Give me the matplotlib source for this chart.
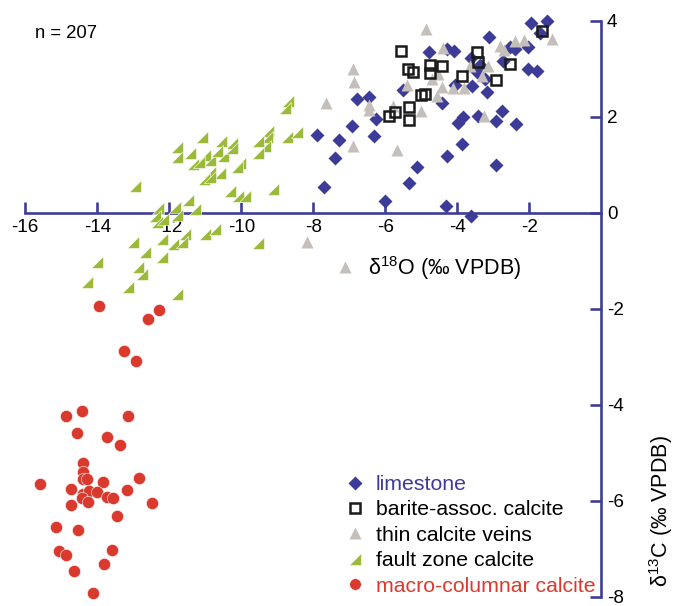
import matplotlib
matplotlib.use("Agg")
import matplotlib.pyplot as plt
from matplotlib.path import Path

plt.rcParams['font.family'] = ['Liberation Sans', 'DejaVu Sans']
plt.rcParams['mathtext.fontset'] = 'custom'
plt.rcParams['mathtext.rm'] = 'Liberation Sans'
plt.rcParams['mathtext.default'] = 'regular'

# d18O / d13C pairs per calcite type
limestone_x = [-1.95, -1.51, -1.70, -3.11, -4.79, -4.28, -4.09, -3.62, -3.37, -3.46,
               -2.54, -2.40, -2.03, -2.72, -2.03, -1.79, -3.60, -3.18, -3.23, -4.43,
               -4.06, -5.52, -6.79, -6.44, -6.26, -6.93, -7.29, -6.31, -7.40, -7.91,
               -7.69, -3.97, -3.83, -3.42, -2.75, -2.93, -2.38, -3.86, -4.28, -5.11,
               -5.33, -2.93, -6.00, -4.32, -3.63]
limestone_y = [3.95, 3.98, 3.74, 3.66, 3.34, 3.41, 3.36, 3.21, 3.07, 2.92,
               3.44, 3.41, 3.45, 3.16, 2.99, 2.95, 2.63, 2.52, 2.78, 2.28,
               2.66, 2.56, 2.36, 2.40, 1.95, 1.80, 1.52, 1.60, 1.13, 1.61,
               0.53, 1.86, 2.00, 2.02, 2.12, 1.91, 1.84, 1.43, 1.17, 0.94,
               0.61, 0.98, 0.25, 0.14, -0.08]

barite_x = [-5.56, -5.38, -5.24, -4.76, -4.43, -4.76, -3.46, -3.43, -2.54, -2.93,
            -3.86, -5.02, -4.91, -5.33, -5.33, -5.90, -5.73, -1.64]
barite_y = [3.36, 2.98, 2.93, 3.07, 3.06, 2.91, 3.34, 3.14, 3.09, 2.76,
            2.85, 2.45, 2.46, 2.20, 1.92, 2.02, 2.09, 3.79]

veins_x = [-4.88, -4.39, -2.81, -2.69, -2.40, -2.16, -1.38, -3.65, -3.32, -3.14,
           -4.53, -4.71, -4.43, -4.56, -4.11, -3.81, -5.41, -5.78, -6.44, -6.44,
           -5.01, -3.26, -6.89, -6.87, -6.89, -5.68, -7.65, -8.18, -7.12]
veins_y = [3.82, 3.42, 3.47, 3.39, 3.58, 3.59, 3.61, 3.06, 2.85, 3.05,
           2.89, 2.78, 2.61, 2.43, 2.60, 2.59, 2.66, 2.21, 2.23, 2.14,
           2.11, 2.01, 2.99, 2.72, 1.39, 1.31, 2.28, -0.62, -1.14]

fault_x = [-8.69, -8.79, -11.10, -10.56, -10.27, -11.79, -11.43, -11.79, -11.01, -10.87,
           -10.68, -10.50, -11.33, -11.18, -10.27, -10.87, -10.59, -11.04, -10.87, -10.04,
           -10.13, -9.26, -9.29, -9.53, -9.33, -9.53, -8.74, -8.46, -12.95, -10.31,
           -10.08, -9.90, -9.11, -12.31, -12.40, -12.35, -12.17, -11.84, -11.79, -11.47,
           -11.29, -11.56, -12.21, -11.89, -11.66, -11.01, -10.73, -13.00, -12.68, -12.21,
           -9.53, -14.02, -12.86, -12.77, -14.29, -13.14, -11.79]
fault_y = [2.33, 2.17, 1.57, 1.50, 1.45, 1.36, 1.25, 1.16, 1.20, 1.09,
           1.28, 1.17, 1.01, 1.05, 1.34, 0.84, 0.82, 0.70, 0.74, 1.03,
           0.95, 1.70, 1.57, 1.50, 1.39, 1.23, 1.58, 1.67, 0.56, 0.45,
           0.35, 0.35, 0.49, 0.09, -0.07, -0.20, -0.14, 0.11, -0.05, 0.26,
           0.07, -0.45, -0.55, -0.66, -0.62, -0.45, -0.34, -0.62, -0.83, -0.93,
           -0.64, -1.04, -1.14, -1.28, -1.45, -1.56, -1.70]

columnar_x = [-13.95, -12.29, -12.60, -13.27, -12.92, -14.87, -14.43, -13.14, -14.56, -13.72,
              -13.36, -14.40, -14.40, -14.41, -14.28, -13.85, -12.84, -15.58, -14.74, -14.39,
              -14.22, -14.02, -14.43, -14.25, -13.74, -13.57, -13.18, -12.47, -14.74, -13.45,
              -15.14, -14.54, -15.06, -14.86, -13.58, -13.81, -14.65, -14.11]
columnar_y = [-1.94, -2.03, -2.22, -2.89, -3.09, -4.23, -4.14, -4.23, -4.60, -4.67,
              -4.84, -5.22, -5.41, -5.55, -5.55, -5.62, -5.54, -5.66, -5.76, -5.86,
              -5.80, -5.83, -5.95, -6.04, -5.92, -5.95, -5.79, -6.05, -6.09, -6.32,
              -6.55, -6.61, -7.05, -7.13, -7.03, -7.33, -7.47, -7.93]

x_ticks = [-16, -14, -12, -10, -8, -6, -4, -2]
y_ticks = [4, 2, 0, -2, -4, -6, -8]

axis_col = '#3f3d94'
blue = '#3d3b98'
gray = '#c4bfba'
green = '#9cba3a'
red = '#da3a2e'

# right-angled triangle, square corner at lower right
half_tri = Path([(-1, -1), (1, -1), (1, 1), (-1, -1)],
                [Path.MOVETO, Path.LINETO, Path.LINETO, Path.CLOSEPOLY])

fig = plt.figure(figsize=(6.75, 6.06), dpi=100)
ax = fig.add_axes([25.3 / 675, 9.5 / 606, 576 / 675, 576 / 606])
ax.set_xlim(-16, 0)
ax.set_ylim(-8, 4)

ax.plot(limestone_x, limestone_y, 'D', ms=7.0, color=blue, mec='none',
        ls='none', clip_on=False, label='limestone', zorder=3)
ax.plot(veins_x, veins_y, '^', ms=8.6, color=gray, mec='none',
        ls='none', clip_on=False, label='thin calcite veins', zorder=4)
ax.plot(barite_x, barite_y, 's', ms=7.2, mfc='none', mec='#1a1a1a', mew=1.8,
        ls='none', clip_on=False, label='barite-assoc. calcite', zorder=5)
ax.plot(fault_x, fault_y, marker=half_tri, ms=8.8, color=green, mec='white', mew=0.4,
        ls='none', clip_on=False, label='fault zone calcite', zorder=3)
ax.plot(columnar_x, columnar_y, 'o', ms=8.8, color=red, mec='white', mew=0.4,
        ls='none', clip_on=False, label='macro-columnar calcite', zorder=3)

# axes crossing at the origin
for side in ['left', 'top']:
    ax.spines[side].set_visible(False)
ax.spines['bottom'].set_position(('data', 0))
ax.spines['bottom'].set_color(axis_col)
ax.spines['right'].set_color(axis_col)
ax.spines['bottom'].set_linewidth(1.9)
ax.spines['right'].set_linewidth(1.9)
ax.yaxis.tick_right()
ax.set_xticks(x_ticks)
ax.set_yticks(y_ticks)
ax.set_xticklabels([str(t) for t in x_ticks])
ax.set_yticklabels([str(t) for t in y_ticks])
ax.tick_params(axis='x', direction='in', length=8, width=1.9, color=axis_col,
               labelsize=13.6, pad=5)
ax.tick_params(axis='y', direction='in', length=8, width=1.9, color=axis_col,
               labelsize=13.6, pad=4)

fig.text(368 / 675, 1 - 268 / 606, 'δ$^{18}$O (‰ VPDB)', fontsize=15.5,
         ha='left', va='center')
fig.text(661 / 675, 1 - 511 / 606, 'δ$^{13}$C (‰ VPDB)', fontsize=15.5,
         rotation=90, ha='center', va='center')
fig.text(35 / 675, 1 - 34 / 606, 'n = 207', fontsize=13.3, ha='left', va='center')

order = [0, 2, 1, 3, 4]
handles, labels = ax.get_legend_handles_labels()
leg = ax.legend([handles[i] for i in order], [labels[i] for i in order],
                loc='upper left', bbox_to_anchor=(344 / 675, 1 - 475 / 606),
                bbox_transform=fig.transFigure, frameon=False, fontsize=15.3,
                handlelength=1.0, handletextpad=0.5, labelspacing=0.3,
                borderpad=0, borderaxespad=0, markerscale=0.95)
text_cols = [blue, 'black', 'black', 'black', red]
for txt, col in zip(leg.get_texts(), text_cols):
    txt.set_color(col)

fig.savefig('out.png', dpi=100)
plt.close(fig)
